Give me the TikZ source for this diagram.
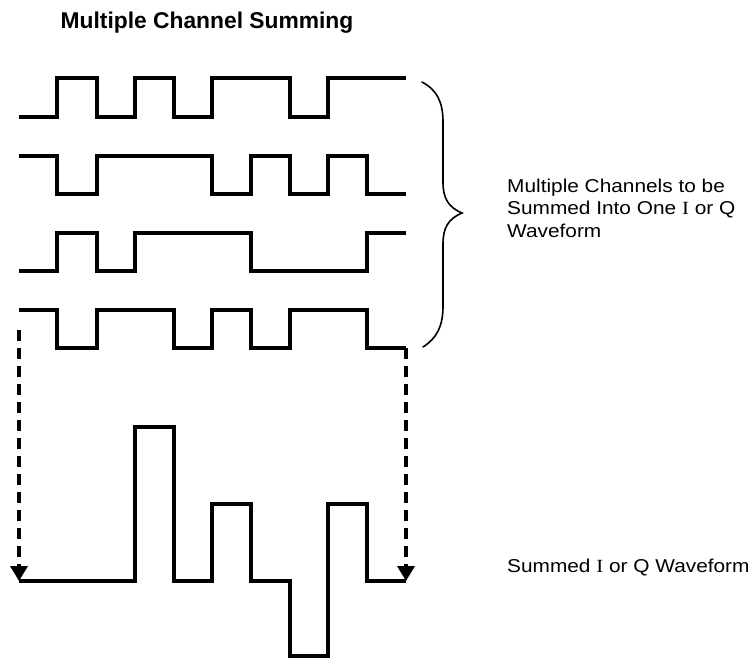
\documentclass[tikz,border=0pt]{standalone}
\usepackage{fontspec}
\setmainfont{Liberation Sans}
\newfontfamily\bodyfont[FakeStretch=1.12]{Liberation Sans}
\newfontfamily\serifI[FakeStretch=1.12]{Liberation Serif}
\usepackage{tikz}
\usetikzlibrary{arrows.meta, positioning}

\begin{document}
\begin{tikzpicture}[
    x=1pt, y=-1pt,
    wave/.style={line width=4pt, line join=miter},
    guide/.style={-{Triangle[length=15pt, width=17pt]}, dash pattern=on 11pt off 7pt, line width=3.5pt},
    brace/.style={line width=1.6pt, line cap=round},
    lbl/.style={font=\bodyfont\fontsize{18.6}{22.5}\selectfont, inner sep=0pt, align=left},
    heading/.style={font=\bfseries\fontsize{22.8}{26}\selectfont, inner sep=0pt}
]
    \useasboundingbox (0,0) rectangle (755,659);

    % Title
    \node[heading, anchor=base west] (title) at (60.5,28.5) {Multiple Channel Summing};

    % Channels
    \draw[wave] (19,117) -| (57,78) -| (97,117) -| (135,78) -| (174,117) -| (212,78) -| (290,117) -| (328,78) -- (406,78);
    \draw[wave] (19,156) -| (57,194) -| (97,156) -| (212,194) -| (251,156) -| (290,194) -| (328,156) -| (367,194) -- (406,194);
    \draw[wave] (19,271) -| (57,233) -| (97,271) -| (135,233) -| (251,271) -| (367,233) -- (406,233);
    \draw[wave] (19,310) -| (57,348) -| (97,310) -| (174,348) -| (212,310) -| (251,348) -| (290,310) -| (367,348) -- (406,348);

    % Brace
    \draw[brace] (422,82) .. controls (437,90) and (443,102) .. (443,122) -- (443,182)
        .. controls (443,198) and (448,207) .. (462,213)
        .. controls (448,219) and (443,228) .. (443,244) -- (443,306)
        .. controls (443,326) and (437,338) .. (423,347);
    \node[lbl, anchor=base west] (chlabel) at (507,237)
        {Multiple Channels to be\\Summed Into One {\serifI I} or Q\\Waveform};

    % Summed waveform
    \coordinate (ch4end) at (406,348);
    \coordinate (ch4gap) at (19,330);
    \coordinate (sumstart) at (19,581);
    \coordinate (sumend) at (406,581);
    \draw[wave] (sumstart) -| (135,427) -| (174,581) -| (212,504) -| (251,581) -| (290,656) -| (328,504) -| (367,581) -- (sumend);
    \draw[guide] (ch4gap) -- (sumstart);
    \draw[guide] (ch4end) -- (sumend);
    \node[lbl, anchor=base west] (sumlabel) at (507,572) {Summed {\serifI I} or Q Waveform};
\end{tikzpicture}
\end{document}
